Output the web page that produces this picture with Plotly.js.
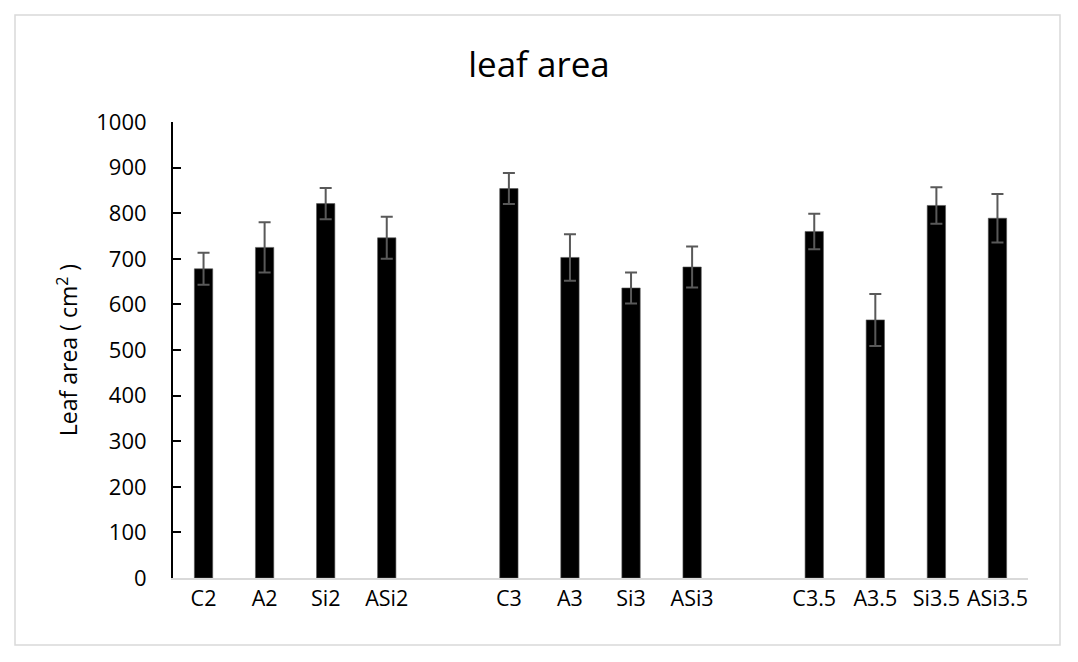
<!DOCTYPE html>
<html>
<head>
<meta charset="utf-8">
<script src="https://cdn.plot.ly/plotly-3.0.1.min.js"></script>
<style>html,body{margin:0;padding:0;background:#fff;}#chart{width:1078px;height:662px;}</style>
</head>
<body>
<div id="chart"></div>
<script>
// Categories (blank entries are the gaps between groups)
var categories = ['C2','A2','Si2','ASi2',' ','C3','A3','Si3','ASi3','  ','C3.5','A3.5','Si3.5','ASi3.5'];
// Mean leaf area (cm²)
var leafArea = [678, 725, 821, 746, null, 854, 703, 636, 682, null, 760, 566, 817, 789];
// Error (±)
var leafErr = [35, 55, 34, 46, null, 34, 51, 34, 45, null, 39, 57, 40, 53];
var yTicks = [0,100,200,300,400,500,600,700,800,900,1000];

var FONT = '"Open Sans", "Noto Sans", "Liberation Sans", sans-serif';

var trace = {
  type: 'bar',
  x: categories,
  y: leafArea,
  marker: {color: '#000000', line: {color: '#555555', width: 0.6}},
  error_y: {type: 'data', array: leafErr, visible: true, color: '#595959', thickness: 2, width: 6},
  hoverinfo: 'x+y'
};

var layout = {
  width: 1078, height: 662,
  paper_bgcolor: '#ffffff', plot_bgcolor: '#ffffff',
  margin: {l: 173, r: 50, t: 122, b: 84},
  showlegend: false,
  bargap: 0.7,
  title: {text: 'leaf area', font: {family: FONT, size: 35, color: '#000'}, x: 0.5, xref: 'container', y: 1 - 65/662, yref: 'container', yanchor: 'middle'},
  xaxis: {
    type: 'category',
    categoryorder: 'array', categoryarray: categories,
    range: [-0.5, categories.length - 0.5],
    showline: true, linecolor: '#d9d9d9', linewidth: 2,
    ticks: '', showgrid: false, zeroline: false,
    tickfont: {family: FONT, size: 21.5, color: '#000'},
    ticklabelstandoff: 0
  },
  yaxis: {
    range: [0, 1000],
    tickvals: yTicks,
    ticktext: yTicks.map(String),
    showline: true, linecolor: '#000', linewidth: 2,
    ticks: 'inside', ticklen: 8, tickwidth: 2, tickcolor: '#000',
    showgrid: false, zeroline: false,
    tickfont: {family: FONT, size: 22, color: '#000'},
    ticklabelstandoff: 20,
    title: {text: 'Leaf area ( cm<sup>2</sup> )', font: {family: FONT, size: 23, color: '#000'}, standoff: 12}
  },
  shapes: [{
    type: 'rect', xref: 'paper', yref: 'paper',
    x0: (15-173)/855, x1: (1060-173)/855,
    y0: (578-645)/456, y1: (578-15)/456,
    line: {color: '#d9d9d9', width: 1.5}, fillcolor: 'rgba(0,0,0,0)', layer: 'below'
  }]
};

Plotly.newPlot('chart', [trace], layout, {displayModeBar: false, staticPlot: true});
</script>
</body>
</html>
